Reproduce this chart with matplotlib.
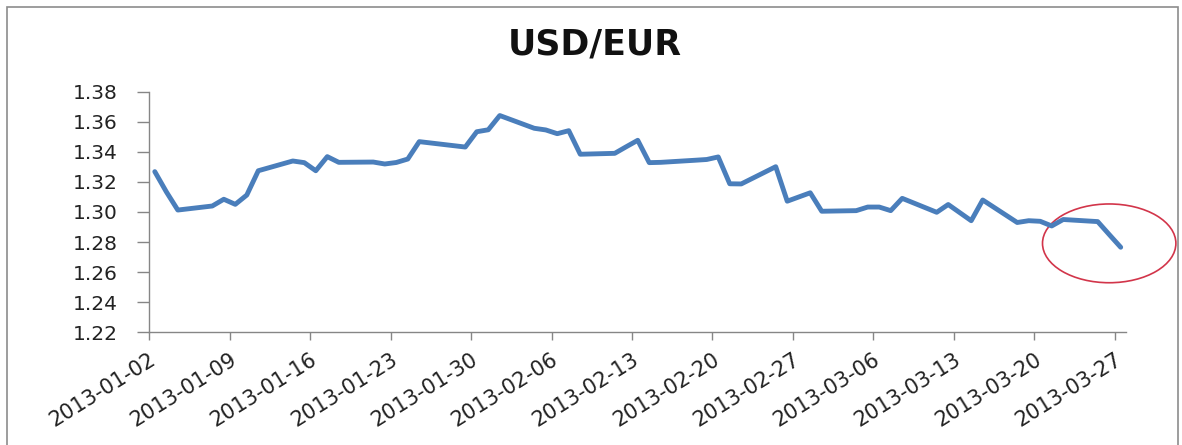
import matplotlib.pyplot as plt
import matplotlib.dates as mdates
from matplotlib.patches import Ellipse, Rectangle
from matplotlib.transforms import ScaledTranslation
import numpy as np

# Daily fixing, business days only
dates = [
    "2013-01-02", "2013-01-03", "2013-01-04", "2013-01-07", "2013-01-08",
    "2013-01-09", "2013-01-10", "2013-01-11", "2013-01-14", "2013-01-15",
    "2013-01-16", "2013-01-17", "2013-01-18", "2013-01-21", "2013-01-22",
    "2013-01-23", "2013-01-24", "2013-01-25", "2013-01-28", "2013-01-29",
    "2013-01-30", "2013-01-31", "2013-02-01", "2013-02-04", "2013-02-05",
    "2013-02-06", "2013-02-07", "2013-02-08", "2013-02-11", "2013-02-12",
    "2013-02-13", "2013-02-14", "2013-02-15", "2013-02-18", "2013-02-19",
    "2013-02-20", "2013-02-21", "2013-02-22", "2013-02-25", "2013-02-26",
    "2013-02-27", "2013-02-28", "2013-03-01", "2013-03-04", "2013-03-05",
    "2013-03-06", "2013-03-07", "2013-03-08", "2013-03-11", "2013-03-12",
    "2013-03-13", "2013-03-14", "2013-03-15", "2013-03-18", "2013-03-19",
    "2013-03-20", "2013-03-21", "2013-03-22", "2013-03-25", "2013-03-26",
    "2013-03-27",
]
rates = [
    1.3269, 1.3135, 1.3013, 1.3040, 1.3085,
    1.3051, 1.3113, 1.3275, 1.3340, 1.3329,
    1.3275, 1.3369, 1.3331, 1.3333, 1.3320,
    1.3330, 1.3353, 1.3469, 1.3442, 1.3433,
    1.3535, 1.3548, 1.3643, 1.3558, 1.3547,
    1.3522, 1.3542, 1.3385, 1.3391, 1.3435,
    1.3478, 1.3329, 1.3331, 1.3345, 1.3350,
    1.3367, 1.3188, 1.3187, 1.3302, 1.3072,
    1.3100, 1.3128, 1.3005, 1.3009, 1.3033,
    1.3033, 1.3009, 1.3091, 1.2998, 1.3050,
    1.2996, 1.2942, 1.3080, 1.2930, 1.2942,
    1.2938, 1.2907, 1.2950, 1.2936, 1.2850,
    1.2765,
]
y_ticks = [1.22, 1.24, 1.26, 1.28, 1.30, 1.32, 1.34, 1.36, 1.38]

# highlighted area at the end of the series (centre date, centre rate)
circle_center = ("2013-03-26", 1.2791)
circle_size = (11.6, 0.0525)  # days, rate units

x = mdates.date2num(np.array(dates, dtype="datetime64[D]")) + 0.5  # points sit mid-day

fig = plt.figure(figsize=(11.82, 4.45), dpi=100)
ax = fig.add_axes([0.1261, 0.2539, 0.953 - 0.1261, 0.7933 - 0.2539])

ax.plot(x, rates, color="#4a7ebb", lw=3.5, solid_joinstyle="round",
        solid_capstyle="round")

start = mdates.date2num(np.datetime64("2013-01-02"))
ax.set_xlim(start, start + 85)
ax.set_ylim(1.22, 1.38)
ax.set_yticks(y_ticks)
ax.set_yticklabels([f"{v:.2f}" for v in y_ticks])

week_ticks = start + np.arange(0, 85, 7)
ax.set_xticks(week_ticks)
ax.xaxis.set_major_formatter(mdates.DateFormatter("%Y-%m-%d"))

for side in ("top", "right"):
    ax.spines[side].set_visible(False)
for side in ("left", "bottom"):
    ax.spines[side].set_color("#868686")
    ax.spines[side].set_linewidth(1.0)

ax.tick_params(axis="y", direction="out", length=8.5, width=1.0,
               color="#868686", labelsize=14.5, labelcolor="#222222", pad=14)
ax.tick_params(axis="x", direction="out", length=5.5, width=1.0,
               color="#868686", labelsize=15, labelcolor="#222222", pad=13)

shift = ScaledTranslation(5 / 100, 0, fig.dpi_scale_trans)
for lab in ax.get_xticklabels():
    lab.set_rotation(32)
    lab.set_ha("right")
    lab.set_va("center")
    lab.set_rotation_mode("anchor")
    lab.set_transform(lab.get_transform() + shift)

cx = mdates.date2num(np.datetime64(circle_center[0])) + 0.5
ax.add_patch(Ellipse((cx, circle_center[1]), circle_size[0], circle_size[1],
                     fill=False, edgecolor="#d2354a", lw=1.2, clip_on=False))

fig.text(0.503, 0.9, "USD/EUR", ha="center", va="center",
         fontsize=25, fontweight="bold", color="#111111")

# outer chart frame (runs off the bottom edge)
fig.patches.append(Rectangle((7 / 1182, -10 / 445), 1171 / 1182, 448 / 445,
                             transform=fig.transFigure, fill=False,
                             edgecolor="#8c8c8c", lw=1.2))

fig.savefig("out.png", dpi=100)
